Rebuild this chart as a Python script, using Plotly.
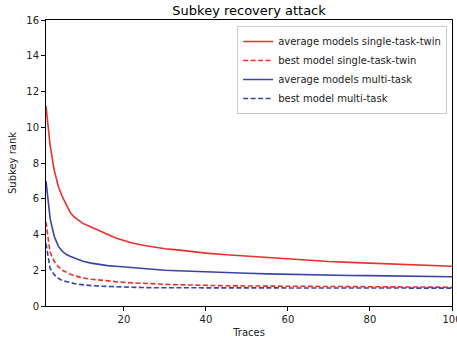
import plotly.graph_objects as go

traces = [1, 2, 3, 4, 5, 6, 7, 8, 9, 10, 12, 14, 16, 18, 20, 22, 25, 28, 30, 33, 36, 40,
          45, 50, 55, 60, 65, 70, 75, 80, 85, 90, 95, 100]

avg_single = [11.2, 9.0, 7.6, 6.7, 6.1, 5.6, 5.2, 4.95, 4.78, 4.62, 4.42, 4.22, 4.02, 3.8,
              3.66, 3.52, 3.38, 3.27, 3.2, 3.14, 3.05, 2.96, 2.87, 2.79, 2.71, 2.63, 2.55,
              2.49, 2.44, 2.39, 2.33, 2.3, 2.25, 2.22]
best_single = [4.7, 3.0, 2.5, 2.2, 2.0, 1.87, 1.77, 1.69, 1.62, 1.57, 1.5, 1.44, 1.4, 1.36,
               1.32, 1.29, 1.26, 1.23, 1.21, 1.19, 1.17, 1.15, 1.13, 1.12, 1.11, 1.1, 1.09,
               1.08, 1.07, 1.07, 1.06, 1.06, 1.05, 1.05]
avg_multi = [7.0, 4.9, 3.9, 3.35, 3.05, 2.88, 2.77, 2.67, 2.58, 2.5, 2.4, 2.32, 2.26, 2.22,
             2.18, 2.13, 2.08, 2.03, 2.0, 1.97, 1.94, 1.9, 1.87, 1.83, 1.8, 1.77, 1.75, 1.73,
             1.71, 1.7, 1.68, 1.67, 1.65, 1.64]
best_multi = [3.5, 2.1, 1.75, 1.55, 1.42, 1.35, 1.29, 1.25, 1.21, 1.18, 1.14, 1.11, 1.09,
              1.07, 1.05, 1.04, 1.03, 1.02, 1.02, 1.01, 1.01, 1.01, 1.0, 1.0, 1.0, 1.0, 1.0,
              1.0, 1.0, 1.0, 1.0, 1.0, 1.0, 1.0]

names = ["average models single-task-twin", "best model single-task-twin",
         "average models multi-task", "best model multi-task"]
RED = "#e8302c"
BLUE = "#3a44a8"
DASH = "5px,2.5px"

fig = go.Figure()
for name, ys, color, dash in [
    (names[0], avg_single, RED, "solid"),
    (names[1], best_single, RED, DASH),
    (names[2], avg_multi, BLUE, "solid"),
    (names[3], best_multi, BLUE, DASH),
]:
    fig.add_trace(go.Scatter(x=traces, y=ys, mode="lines", name=name,
                             line=dict(color=color, width=1.6, dash=dash)))

font = "DejaVu Sans, sans-serif"
axis_common = dict(showgrid=False, zeroline=False, showline=True, linecolor="black",
                   linewidth=1, mirror=True, ticks="outside", ticklen=4, tickcolor="black",
                   ticklabeloverflow="allow", automargin=False,
                   tickfont=dict(family=font, size=10, color="#222"))

fig.update_layout(
    width=457, height=340,
    margin=dict(l=46, r=5, t=20, b=34),
    paper_bgcolor="white", plot_bgcolor="white",
    title=dict(text="Subkey recovery attack", x=0.545, xanchor="center",
               y=1 - 10 / 340, yanchor="middle",
               font=dict(family=font, size=13, color="black")),
    xaxis=dict(range=[1, 100], tickvals=[20, 40, 60, 80, 100],
               title=dict(text="Traces", font=dict(family=font, size=10, color="#222"), standoff=4),
               **axis_common),
    yaxis=dict(range=[0, 16], dtick=2,
               title=dict(text="Subkey rank", font=dict(family=font, size=10, color="#222"), standoff=7),
               **axis_common),
    legend=dict(x=0.988, y=0.979, xanchor="right", yanchor="top",
                bgcolor="white", bordercolor="#cccccc", borderwidth=1,
                font=dict(family=font, size=10, color="#222"),
                tracegroupgap=0, itemwidth=30),
    showlegend=True,
)

fig.write_html("out.html", config={"displayModeBar": False},
               post_script="document.body.style.margin='0';")
